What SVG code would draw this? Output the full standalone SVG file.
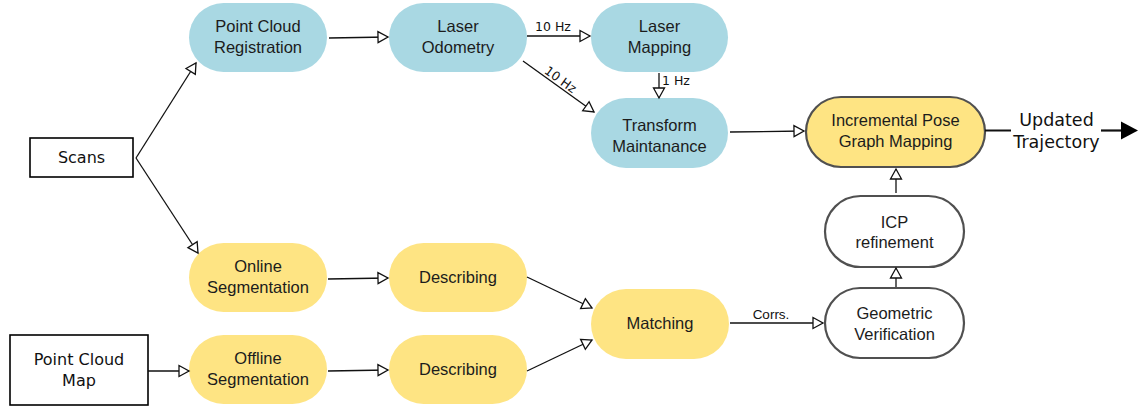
<svg xmlns="http://www.w3.org/2000/svg" width="1141" height="410" viewBox="0 0 1141 410">
<style>
.blue{fill:#a9d8e3;stroke:none}
.yel{fill:#fee483;stroke:none}
.yelb{fill:#fee483;stroke:#505050;stroke-width:2.2}
.wht{fill:#ffffff;stroke:#505050;stroke-width:2.2}
.box{fill:#ffffff;stroke:#000000;stroke-width:1.6}
.t{font-family:"Liberation Sans",Arial,sans-serif;font-size:16.5px;fill:#1c1c1c;text-anchor:middle}
.d{font-family:"DejaVu Sans",sans-serif;font-size:16px;fill:#111;text-anchor:middle}
.u{font-family:"DejaVu Sans",sans-serif;font-size:17.5px;fill:#111;text-anchor:middle}
.s{font-family:"DejaVu Sans",sans-serif;font-size:12.5px;fill:#111}
.c{font-family:"Liberation Sans",Arial,sans-serif;font-size:13.5px;fill:#111;text-anchor:middle}
.e{fill:none;stroke:#111;stroke-width:1.3;marker-end:url(#oa)}
</style>
<defs>
<marker id="oa" markerUnits="userSpaceOnUse" markerWidth="14" markerHeight="14" refX="11" refY="6" orient="auto" viewBox="0 0 14 14" overflow="visible">
<path d="M1,0.5 L11,6 L1,11.5 Z" fill="#fff" stroke="#111" stroke-width="1.3"/>
</marker>
</defs>

<g id="scans"><rect class="box" x="30" y="138" width="103" height="39"/><text class="d" x="81.5" y="163">Scans</text></g>
<g id="pcmap"><rect class="box" x="10" y="335" width="138" height="70"/><text class="d" x="79" y="365">Point Cloud</text><text class="d" x="79" y="386">Map</text></g>

<g id="pcr"><rect class="blue" x="189" y="3" width="138" height="69" rx="34.5"/><text class="t" x="258" y="32">Point Cloud</text><text class="t" x="258" y="53">Registration</text></g>
<g id="lo"><rect class="blue" x="389" y="3" width="138" height="69" rx="34.5"/><text class="t" x="458" y="32">Laser</text><text class="t" x="458" y="53">Odometry</text></g>
<g id="lm"><rect class="blue" x="591" y="3" width="137" height="69" rx="34.5"/><text class="t" x="659.5" y="32">Laser</text><text class="t" x="659.5" y="53">Mapping</text></g>
<g id="tm"><rect class="blue" x="591" y="98" width="137" height="70" rx="35"/><text class="t" x="659.5" y="131">Transform</text><text class="t" x="659.5" y="152">Maintanance</text></g>
<g id="ipgm"><rect class="yelb" x="806" y="97" width="179" height="70" rx="35"/><text class="t" x="895.5" y="126">Incremental Pose</text><text class="t" x="895.5" y="147">Graph Mapping</text></g>
<g id="icp"><rect class="wht" x="825" y="196" width="139" height="71" rx="35.5"/><text class="t" x="894.5" y="228">ICP</text><text class="t" x="894.5" y="248">refinement</text></g>
<g id="gv"><rect class="wht" x="825" y="288" width="139" height="70" rx="35"/><text class="t" x="894.5" y="319">Geometric</text><text class="t" x="894.5" y="340">Verification</text></g>
<g id="match"><rect class="yel" x="591" y="289" width="138" height="70" rx="35"/><text class="t" x="660" y="329">Matching</text></g>
<g id="onseg"><rect class="yel" x="189" y="243" width="138" height="69" rx="34.5"/><text class="t" x="258" y="272">Online</text><text class="t" x="258" y="293">Segmentation</text></g>
<g id="desc1"><rect class="yel" x="389" y="243" width="138" height="69" rx="34.5"/><text class="t" x="458" y="283">Describing</text></g>
<g id="offseg"><rect class="yel" x="189" y="335" width="138" height="69" rx="34.5"/><text class="t" x="258" y="364">Offline</text><text class="t" x="258" y="385">Segmentation</text></g>
<g id="desc2"><rect class="yel" x="389" y="335" width="138" height="69" rx="34.5"/><text class="t" x="458" y="375">Describing</text></g>

<g id="connectors">
<line class="e" x1="136" y1="158" x2="196" y2="63"/>
<line class="e" x1="136" y1="158" x2="198" y2="253"/>
<line class="e" x1="329" y1="38" x2="388" y2="37"/>
<line class="e" x1="527" y1="36" x2="590" y2="36"/>
<text class="s" x="553" y="31" text-anchor="middle">10 Hz</text>
<line class="e" x1="523" y1="61" x2="594" y2="112"/>
<text class="s" x="558" y="83" text-anchor="middle" transform="rotate(36 558 83)">10 Hz</text>
<line class="e" x1="659" y1="73" x2="659" y2="98"/>
<text class="s" x="662" y="85">1 Hz</text>
<line class="e" x1="730" y1="132" x2="804" y2="131"/>
<line class="e" x1="328" y1="279" x2="388" y2="278"/>
<line class="e" x1="527" y1="277" x2="592" y2="308"/>
<line class="e" x1="328" y1="371" x2="388" y2="370"/>
<line class="e" x1="527" y1="371" x2="592" y2="340"/>
<line class="e" x1="148" y1="371" x2="189" y2="371"/>
<line class="e" x1="730" y1="323" x2="823" y2="323"/>
<text class="c" x="771" y="319">Corrs.</text>
<line class="e" x1="896" y1="287" x2="896" y2="268"/>
<line class="e" x1="896" y1="193" x2="896" y2="169"/>
<line x1="985" y1="130.5" x2="1011" y2="130.5" stroke="#111" stroke-width="2"/>
<line x1="1101" y1="130.5" x2="1122" y2="130.5" stroke="#111" stroke-width="2.2"/>
<path d="M1121,121.5 L1138,130.5 L1121,139.5 Z" fill="#000"/>
</g>
<g id="out-label"><text class="u" x="1056.5" y="126">Updated</text><text class="u" x="1056.5" y="148">Trajectory</text></g>
</svg>
